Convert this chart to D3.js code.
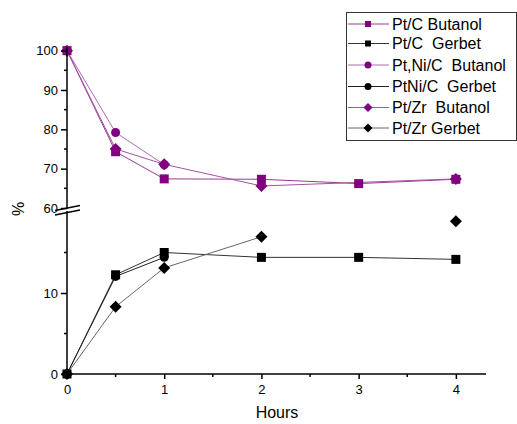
<!DOCTYPE html>
<html>
<head>
<meta charset="utf-8">
<script src="https://cdn.jsdelivr.net/npm/d3@7"></script>
<style>
body { margin: 0; background: #fff; }
svg { font-family: "Liberation Sans", Arial, sans-serif; }
</style>
</head>
<body>
<div id="chart"></div>
<script>
// hours sampled
var hours = [0, 0.5, 1, 2, 3, 4];

// butanol conversion (upper panel, %) - null = no point
var ptcButanol   = [100, 74.3, 67.4, 67.3, 66.2, 67.3];
var ptniButanol  = [100, 79.2, 71.0, null, null, null];
var ptzrButanol  = [100, 75.0, 71.1, 65.6, null, 67.4];

// gerbet selectivity (lower panel, %)
var ptcGerbet    = [0, 12.25, 15.0, 14.4, 14.4, 14.15];
var ptniGerbet   = [0, 12.05, 14.4, null, null, null];
var ptzrGerbet   = [0, 8.3, 13.1, 16.95, null, 18.85];

var xTicks = [0, 1, 2, 3, 4];
var upperTicks = [60, 70, 80, 90, 100];
var lowerTicks = [0, 10];

var legendLabels = ["Pt/C Butanol", "Pt/C  Gerbet", "Pt,Ni/C  Butanol", "PtNi/C  Gerbet", "Pt/Zr  Butanol", "Pt/Zr Gerbet"];

var width = 517, height = 424;
var purple = "#800080";

var svg = d3.select("#chart").append("svg").attr("width", width).attr("height", height);

var x = d3.scaleLinear().domain([0, 4.31]).range([67, 486]);
var yUp = d3.scaleLinear().domain([60, 101]).range([208, 46.7]);
var yLo = d3.scaleLinear().domain([0, 20]).range([374, 212]);

// series definitions
var series = [
	{name: legendLabels[0], vals: ptcButanol,  y: yUp, color: purple, line: "#9a3a9a", shape: "square"},
	{name: legendLabels[1], vals: ptcGerbet,   y: yLo, color: "#000", line: "#333", shape: "square"},
	{name: legendLabels[2], vals: ptniButanol, y: yUp, color: purple, line: "#b36bb3", shape: "circle"},
	{name: legendLabels[3], vals: ptniGerbet,  y: yLo, color: "#000", line: "#222", shape: "circle"},
	{name: legendLabels[4], vals: ptzrButanol, y: yUp, color: purple, line: "#a552a5", shape: "diamond"},
	{name: legendLabels[5], vals: ptzrGerbet,  y: yLo, color: "#000", line: "#666", shape: "diamond"}
];

function marker(g, shape, cx, cy, color){
	if (shape == "square") {
		g.append("rect").attr("x", cx-4.5).attr("y", cy-4.5).attr("width", 9).attr("height", 9).style("fill", color);
	} else if (shape == "circle") {
		g.append("circle").attr("cx", cx).attr("cy", cy).attr("r", 4.5).style("fill", color);
	} else {
		g.append("path").attr("d", "M"+cx+","+(cy-6)+"L"+(cx+6)+","+cy+"L"+cx+","+(cy+6)+"L"+(cx-6)+","+cy+"Z").style("fill", color);
	}
}

// lines first (break at missing values)
series.forEach(function(s){
	var pts = hours.map(function(h, i){ return [h, s.vals[i]]; });
	var line = d3.line()
		.defined(function(d){ return d[1] !== null; })
		.x(function(d){ return x(d[0]); })
		.y(function(d){ return s.y(d[1]); });
	// ptzr gerbet has an isolated last point; ptzr butanol skips hour 3
	var data = pts;
	if (s.vals === ptzrButanol) data = pts.filter(function(d){ return d[1] !== null; });
	svg.append("path")
		.datum(data)
		.attr("d", line)
		.style("fill", "none")
		.style("stroke", s.line)
		.style("stroke-width", 1);
});

// markers
series.forEach(function(s){
	var g = svg.append("g");
	hours.forEach(function(h, i){
		if (s.vals[i] === null) return;
		marker(g, s.shape, x(h), s.y(s.vals[i]), s.color);
	});
});

// axes
var xAxis = d3.axisBottom(x).tickValues(xTicks).tickSize(5).tickFormat(d3.format("d"));
var gx = svg.append("g").attr("transform", "translate(0,374)").call(xAxis);
gx.select(".domain").attr("d", "M67,0H486").style("stroke-width", 1.5);
gx.selectAll("line").style("stroke-width", 1.5);
gx.selectAll("text").style("font-size", "13px").attr("dy", "0.9em");
svg.append("g").attr("transform", "translate(0,374)")
	.selectAll("line").data([0.5, 1.5, 2.5, 3.5]).enter().append("line")
	.attr("x1", function(d){ return x(d); }).attr("x2", function(d){ return x(d); })
	.attr("y1", 0).attr("y2", 3).style("stroke", "#000").style("stroke-width", 1.5);

var upAxis = d3.axisLeft(yUp).tickValues(upperTicks).tickSize(6);
var gu = svg.append("g").attr("transform", "translate(67,0)").call(upAxis);
gu.select(".domain").attr("d", "M0,46.7V209").style("stroke-width", 1.5);
gu.selectAll("line").style("stroke-width", 1.5);
gu.selectAll("text").style("font-size", "13px");
svg.append("g").attr("transform", "translate(67,0)")
	.selectAll("line").data([65, 75, 85, 95]).enter().append("line")
	.attr("x1", -3).attr("x2", 0)
	.attr("y1", function(d){ return yUp(d); }).attr("y2", function(d){ return yUp(d); })
	.style("stroke", "#000").style("stroke-width", 1.5);

var loAxis = d3.axisLeft(yLo).tickValues(lowerTicks).tickSize(6);
var gl = svg.append("g").attr("transform", "translate(67,0)").call(loAxis);
gl.select(".domain").attr("d", "M0,211V374").style("stroke-width", 1.5);
gl.selectAll("line").style("stroke-width", 1.5);
gl.selectAll("text").style("font-size", "13px");
svg.append("g").attr("transform", "translate(67,0)")
	.selectAll("line").data([5, 15]).enter().append("line")
	.attr("x1", -3).attr("x2", 0)
	.attr("y1", function(d){ return yLo(d); }).attr("y2", function(d){ return yLo(d); })
	.style("stroke", "#000").style("stroke-width", 1.5);

// axis break marks
svg.append("line").attr("x1", 55).attr("y1", 210.5).attr("x2", 80).attr("y2", 205.5).style("stroke", "#000").style("stroke-width", 1.3);
svg.append("line").attr("x1", 55).attr("y1", 215).attr("x2", 80).attr("y2", 210).style("stroke", "#000").style("stroke-width", 1.3);

// axis titles
svg.append("text")
	.attr("x", 277).attr("y", 418)
	.style("text-anchor", "middle")
	.style("font-size", "16px")
	.text("Hours");

svg.append("text")
	.attr("transform", "translate(24,209) rotate(-90)")
	.style("text-anchor", "middle")
	.style("font-size", "16px")
	.text("%");

// legend
svg.append("rect").attr("x", 346.5).attr("y", 12.5).attr("width", 170).attr("height", 128)
	.style("fill", "#fff").style("stroke", "#333").style("stroke-width", 1);
var rowY = [24, 43.5, 65, 86.5, 107.5, 128];
series.forEach(function(s, i){
	var g = svg.append("g");
	g.append("line").attr("x1", 348).attr("x2", 389).attr("y1", rowY[i]).attr("y2", rowY[i])
		.style("stroke", s.line).style("stroke-width", 1);
	var sh = s.shape;
	g.append("g").call(function(gg){
		if (sh == "square") gg.append("rect").attr("x", 365).attr("y", rowY[i]-3).attr("width", 6).attr("height", 6).style("fill", s.color);
		else if (sh == "circle") gg.append("circle").attr("cx", 368).attr("cy", rowY[i]).attr("r", 3.5).style("fill", s.color);
		else gg.append("path").attr("d", "M368,"+(rowY[i]-4.5)+"l4.5,4.5l-4.5,4.5l-4.5,-4.5z").style("fill", s.color);
	});
	g.append("text").attr("x", 392).attr("y", rowY[i]).attr("dy", "0.36em")
		.style("font-size", "16px").style("white-space", "pre").attr("xml:space", "preserve")
		.text(s.name);
});
</script>
</body>
</html>
